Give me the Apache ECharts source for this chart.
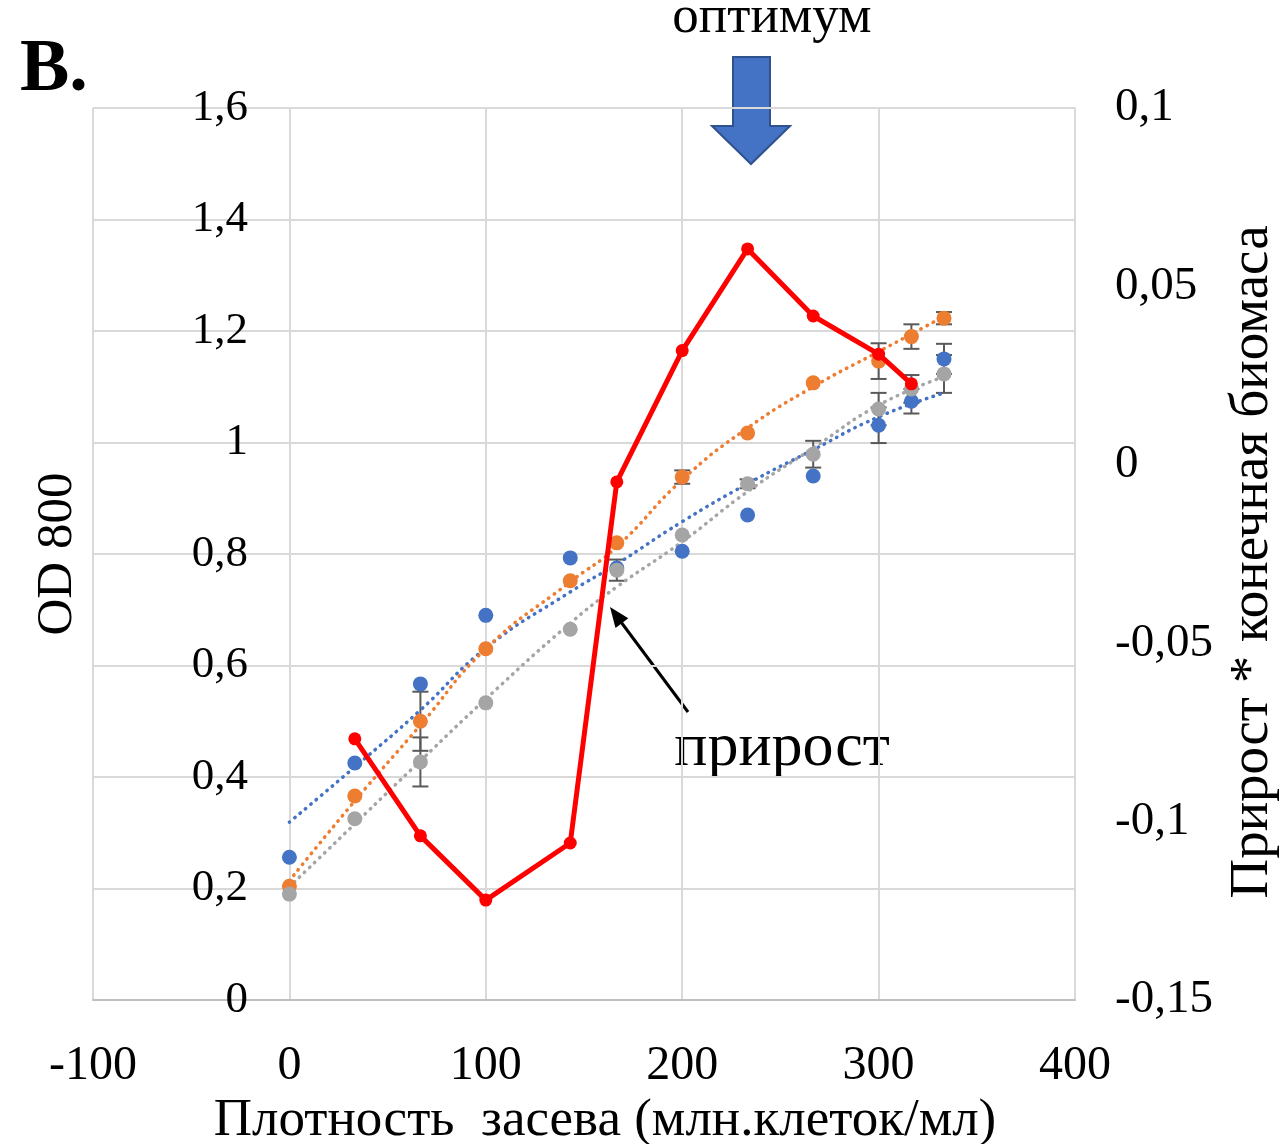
<!DOCTYPE html>
<html>
<head>
<meta charset="utf-8">
<script src="https://cdn.jsdelivr.net/npm/echarts@6/dist/echarts.min.js"></script>
<style>
  html, body { margin: 0; padding: 0; background: #fff; }
  #main { width: 1284px; height: 1144px; }
</style>
</head>
<body>
<div id="main"></div>
<script>
// seeding density, mln cells/ml
const xVals = [0, 33.3, 66.7, 100, 143, 166.7, 200, 233.3, 266.7, 300, 316.7, 333.3];
// OD 800 for the three repeats
const blueVals   = [0.256, 0.425, 0.567, 0.69, 0.793, 0.775, 0.805, 0.87, 0.94, 1.031, 1.074, 1.15];
const orangeVals = [0.204, 0.366, 0.50, 0.63, 0.752, 0.82, 0.938, 1.017, 1.107, 1.146, 1.19, 1.223];
const grayVals   = [0.19, 0.325, 0.427, 0.533, 0.665, 0.771, 0.834, 0.926, 0.979, 1.06, 1.096, 1.123];
// error bars (+/-)
const blueErr   = [0, 0, 0, 0, 0, 0, 0, 0, 0, 0.032, 0.022, 0.027];
const orangeErr = [0, 0, 0.053, 0, 0, 0, 0.012, 0, 0, 0.032, 0.022, 0.011];
const grayErr   = [0, 0, 0.044, 0, 0, 0.019, 0, 0.008, 0.024, 0.029, 0.025, 0.034];
// trend lines
const trendX      = [0, 33.3, 66.7, 100, 143, 166.7, 200, 233.3, 266.7, 300, 333.3];
const blueTrend   = [0.319, 0.418, 0.52, 0.631, 0.732, 0.782, 0.858, 0.926, 0.987, 1.046, 1.089];
const orangeTrend = [0.214, 0.357, 0.493, 0.63, 0.75, 0.813, 0.933, 1.026, 1.1, 1.163, 1.226];
const grayTrend   = [0.203, 0.316, 0.429, 0.54, 0.676, 0.741, 0.822, 0.912, 0.99, 1.067, 1.118];
// growth * final biomass (right axis)
const redX    = [33.3, 66.7, 100, 143, 166.7, 200, 233.3, 266.7, 300, 316.7];
const redVals = [-0.0768, -0.104, -0.122, -0.106, -0.0048, 0.032, 0.0605, 0.0417, 0.031, 0.0227];

const xTicks = [-100, 0, 100, 200, 300, 400];

const FONT = '"Liberation Serif", "Times New Roman", serif';
const BLUE = '#4472C4', ORANGE = '#ED7D31', GRAY = '#A5A5A5', RED = '#FF0000';

function zip(xs, ys) { return xs.map((x, i) => [x, ys[i]]); }
function errData(ys, es) {
  let out = [];
  xVals.forEach((x, i) => { if (es[i] > 0) out.push([x, ys[i], es[i]]); });
  return out;
}
function fmt(v) {
  let s = String(Math.round(v * 1000) / 1000);
  return s.replace('.', ',');
}

function errSeries(ys, es) {
  return {
    type: 'custom',
    yAxisIndex: 0,
    silent: true,
    z: 2,
    data: errData(ys, es),
    renderItem: function (params, api) {
      let x = api.value(0), y = api.value(1), e = api.value(2);
      let t = api.coord([x, y + e]), b = api.coord([x, y - e]);
      let w = 8;
      let st = { stroke: '#595959', lineWidth: 2 };
      return {
        type: 'group',
        children: [
          { type: 'line', shape: { x1: t[0], y1: t[1], x2: b[0], y2: b[1] }, style: st },
          { type: 'line', shape: { x1: t[0] - w, y1: t[1], x2: t[0] + w, y2: t[1] }, style: st },
          { type: 'line', shape: { x1: b[0] - w, y1: b[1], x2: b[0] + w, y2: b[1] }, style: st }
        ]
      };
    }
  };
}
function trendSeries(ys, color) {
  return {
    type: 'line',
    yAxisIndex: 0,
    data: zip(trendX, ys),
    smooth: true,
    showSymbol: false,
    silent: true,
    z: 3,
    lineStyle: { color: color, width: 3.5, type: [0.5, 6.5], cap: 'round' }
  };
}
function scatterSeries(ys, color) {
  return {
    type: 'scatter',
    yAxisIndex: 0,
    data: zip(xVals, ys),
    symbolSize: 15,
    z: 4,
    itemStyle: { color: color, opacity: 1 }
  };
}

const chart = echarts.init(document.getElementById('main'));
const option = {
  animation: false,
  backgroundColor: '#fff',
  grid: { left: 93, right: 209, top: 108, bottom: 144, outerBoundsMode: 'none', containLabel: false },
  xAxis: {
    type: 'value',
    min: -100, max: 400, interval: 100,
    name: 'Плотность  засева (млн.клеток/мл)',
    nameLocation: 'middle',
    nameGap: 92,
    nameTextStyle: { fontFamily: FONT, fontSize: 53, color: '#000', padding: [0, 0, 0, 42] },
    axisLine: { onZero: false, lineStyle: { color: '#bfbfbf', width: 2 } },
    axisTick: { show: false },
    axisLabel: { fontFamily: FONT, fontSize: 48, color: '#000', margin: 42,
      formatter: v => xTicks.includes(v) ? String(v) : '' },
    splitLine: { show: true, lineStyle: { color: '#d9d9d9', width: 2 } }
  },
  yAxis: [
    {
      type: 'value',
      min: 0, max: 1.6, interval: 0.2,
      offset: -196,
      name: 'OD 800',
      nameLocation: 'middle',
      nameRotate: 90,
      nameGap: 206,
      nameTextStyle: { fontFamily: FONT, fontSize: 51, color: '#000' },
      axisLine: { show: false },
      axisTick: { show: false },
      axisLabel: { fontFamily: FONT, fontSize: 45, color: '#000', margin: 41, formatter: fmt },
      splitLine: { show: true, lineStyle: { color: '#d9d9d9', width: 2 } }
    },
    {
      type: 'value',
      position: 'right',
      min: -0.15, max: 0.1, interval: 0.05,
      name: 'Прирост * конечная биомаса',
      nameLocation: 'middle',
      nameRotate: 90,
      nameGap: 150,
      nameTextStyle: { fontFamily: FONT, fontSize: 55, color: '#000', padding: [0, 16, 0, 0] },
      axisLine: { show: true, lineStyle: { color: '#d9d9d9', width: 2 } },
      axisTick: { show: false },
      axisLabel: { fontFamily: FONT, fontSize: 47, color: '#000', margin: 40, formatter: fmt },
      splitLine: { show: false }
    }
  ],
  series: [
    errSeries(blueVals, blueErr),
    errSeries(orangeVals, orangeErr),
    errSeries(grayVals, grayErr),
    trendSeries(blueTrend, BLUE),
    trendSeries(orangeTrend, ORANGE),
    trendSeries(grayTrend, GRAY),
    scatterSeries(blueVals, BLUE),
    scatterSeries(orangeVals, ORANGE),
    scatterSeries(grayVals, GRAY),
    {
      type: 'line',
      yAxisIndex: 1,
      data: zip(redX, redVals),
      symbol: 'circle',
      symbolSize: 13,
      z: 5,
      lineStyle: { color: RED, width: 5 },
      itemStyle: { color: RED }
    }
  ],
  graphic: [
    { type: 'text', left: 20, top: 34,
      style: { text: 'B.', fontFamily: FONT, fontSize: 74, fontWeight: 'bold', fill: '#000' } },
    { type: 'text', x: 772, y: 18,
      style: { text: 'оптимум', fontFamily: FONT, fontSize: 53, fill: '#000',
        textAlign: 'center', textVerticalAlign: 'middle' } },
    { type: 'polygon',
      shape: { points: [[733, 57], [770, 57], [770, 126], [790, 126], [751, 164], [712, 126], [733, 126]] },
      style: { fill: BLUE, stroke: '#2F528F', lineWidth: 2 } },
    { type: 'line', shape: { x1: 688, y1: 712, x2: 621, y2: 622 },
      style: { stroke: '#000', lineWidth: 3 } },
    { type: 'polygon', shape: { points: [[610, 607], [628.3, 618.3], [615.5, 627.9]] },
      style: { fill: '#000' } },
    { type: 'text', x: 782, y: 749,
      style: { text: 'прирост', fontFamily: FONT, fontSize: 62, fill: '#000',
        textAlign: 'center', textVerticalAlign: 'middle' } }
  ]
};
chart.setOption(option);
</script>
</body>
</html>
